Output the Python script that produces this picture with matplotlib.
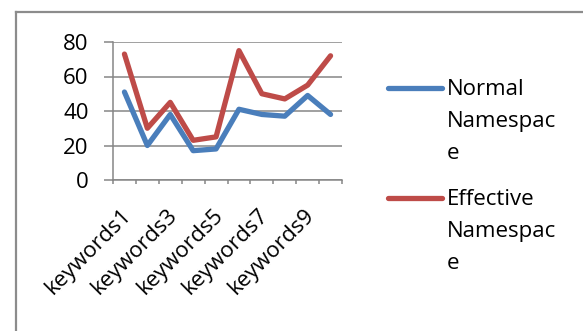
import matplotlib
matplotlib.use("Agg")
import matplotlib.pyplot as plt
import matplotlib.transforms as mtransforms
from matplotlib.lines import Line2D

categories = [f"keywords{i}" for i in range(1, 11)]
normal = [51, 20, 38, 17, 18, 41, 38, 37, 49, 38]
effective = [73, 30, 45, 23, 25, 75, 50, 47, 55, 72]
series_names = ["Normal\nNamespac\ne", "Effective\nNamespac\ne"]
colors = ["#4A7EBB", "#BE4B48"]
yticks = [0, 20, 40, 60, 80]

W, H = 583, 331
plt.rcParams['font.family'] = ['Open Sans', 'DejaVu Sans']
FS = 16
GRAY = "#868686"

fig = plt.figure(figsize=(W / 100, H / 100), dpi=100)
fig.patch.set_facecolor("white")

# outer chart border (top and left visible)
fig.add_artist(Line2D([16 / W, 582 / W], [1 - 12 / H, 1 - 12 / H], color="#8c8c8c", lw=1.6))
fig.add_artist(Line2D([16 / W, 16 / W], [1 - 12 / H, 0], color="#8c8c8c", lw=1.6))

ax = fig.add_axes([113 / W, 1 - 180 / H, (342 - 113) / W, (180 - 42) / H])
x = [i + 0.5 for i in range(len(categories))]
ax.plot(x, normal, color=colors[0], lw=3.8, solid_joinstyle="round", solid_capstyle="round", zorder=3)
ax.plot(x, effective, color=colors[1], lw=3.8, solid_joinstyle="round", solid_capstyle="round", zorder=3)

ax.set_xlim(0, len(categories))
ax.set_ylim(0, 80)
ax.set_yticks(yticks)
ax.set_yticklabels([str(v) for v in yticks], fontsize=FS)
ax.set_xticks(range(len(categories) + 1))
ax.set_xticklabels([])
ax.tick_params(axis="x", length=3.2, width=1.1, color=GRAY, direction="out")
ax.tick_params(axis="y", length=6.5, width=1.1, color=GRAY, direction="out", pad=11)
ax.grid(axis="y", color=GRAY, lw=1.1)
ax.set_axisbelow(True)
for s in ["top", "right"]:
    ax.spines[s].set_visible(False)
for s in ["left", "bottom"]:
    ax.spines[s].set_color(GRAY)
    ax.spines[s].set_linewidth(1.1)

trans = ax.get_xaxis_transform() + mtransforms.ScaledTranslation(-4 / 100, -25 / 100, fig.dpi_scale_trans)
for i in range(0, len(categories), 2):
    ax.text(x[i], 0, categories[i], transform=trans, rotation=45, rotation_mode="anchor",
            ha="right", va="top", fontsize=FS)

# legend
for k, (name, c) in enumerate(zip(series_names, colors)):
    yc = 88 if k == 0 else 198
    fig.add_artist(Line2D([388 / W, 442 / W], [1 - yc / H, 1 - yc / H], color=c, lw=3.8, solid_capstyle="round"))
    fig.text(447 / W, 1 - (yc - 9) / H, name, fontsize=FS, va="top", ha="left", linespacing=1.68)

fig.savefig("out.png", dpi=100)
